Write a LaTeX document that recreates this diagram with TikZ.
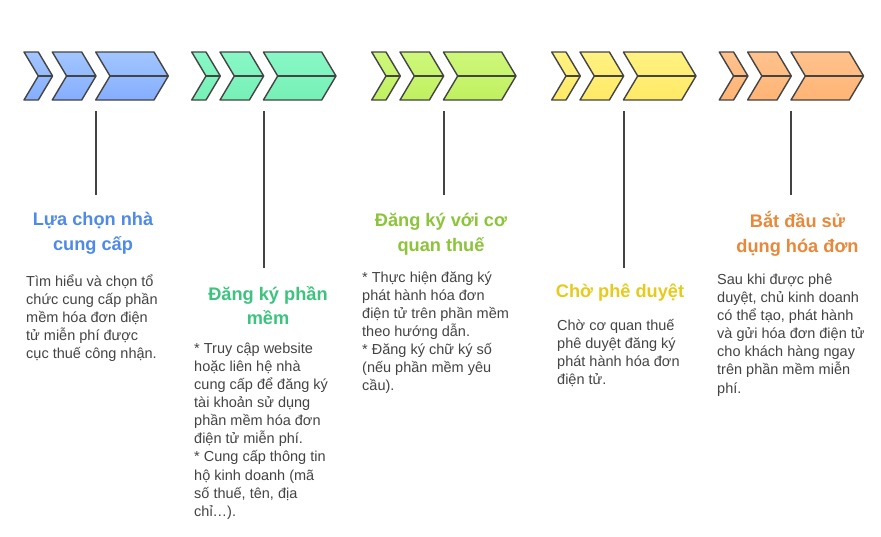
\documentclass[tikz,border=0pt]{standalone}
\usepackage{fontspec}
\setmainfont{Liberation Sans}
\usetikzlibrary{calc}
\definecolor{edge}{HTML}{444444}
\definecolor{bodytxt}{HTML}{444444}
\definecolor{aT}{HTML}{A2C6FF}\definecolor{aB}{HTML}{86AEFF}\definecolor{aH}{HTML}{4F8AE8}
\definecolor{bT}{HTML}{88F8C6}\definecolor{bB}{HTML}{76F0B6}\definecolor{bH}{HTML}{3CC47E}
\definecolor{cT}{HTML}{CEF87A}\definecolor{cB}{HTML}{C0F060}\definecolor{cH}{HTML}{8CC43A}
\definecolor{dT}{HTML}{FFF282}\definecolor{dB}{HTML}{FFEA66}\definecolor{dH}{HTML}{E6CB1C}
\definecolor{eT}{HTML}{FFC28E}\definecolor{eB}{HTML}{FFB474}\definecolor{eH}{HTML}{E8883A}
\tikzset{
  chevshape/.style={draw=edge,line width=1.4pt,line join=round},
  stem/.style={draw=edge,line width=1.8pt},
  titletxt/.style={font=\bfseries\fontsize{18.2}{24.5}\selectfont,align=center,inner sep=0pt},
  bodytext/.style={font=\fontsize{14.5}{18.1}\selectfont,align=left,inner sep=0pt,text=bodytxt,anchor=west},
}
\newcommand{\mychev}[4]{% x0, w, topcolor, bottomcolor
  \draw[chevshape,top color=#3,bottom color=#4]
    (#1,52) -- ({#1+#2},52) -- ({#1+#2+14.3},76) -- ({#1+#2},100) -- (#1,100) -- ({#1+14.3},76) -- cycle;
  \draw[chevshape] ({#1+14.3},76) -- ({#1+#2+14.3},76);
}
\newcommand{\mygroup}[3]{% offset, top, bottom
  \mychev{24+#1}{14.3}{#2}{#3}
  \mychev{52.3+#1}{29.4}{#2}{#3}
  \mychev{95.7+#1}{58.3}{#2}{#3}
}
\begin{document}
\begin{tikzpicture}[x=1pt,y=-1pt]
\useasboundingbox[fill=white] (0,0) rectangle (881,536);
\mygroup{0}{aT}{aB}
\mygroup{167.7}{bT}{bB}
\mygroup{347.7}{cT}{cB}
\mygroup{527.7}{dT}{dB}
\mygroup{695.3}{eT}{eB}

\coordinate (s1) at (96,111);   \coordinate (e1) at (96,195);
\coordinate (s2) at (263.7,111);\coordinate (e2) at (263.7,268);
\coordinate (s3) at (443.7,111);\coordinate (e3) at (443.7,195);
\coordinate (s4) at (623.7,111);\coordinate (e4) at (623.7,268);
\coordinate (s5) at (791.3,111);\coordinate (e5) at (791.3,195);
\foreach \i in {1,...,5} \draw[stem] (s\i) -- (e\i);

\node[titletxt,text=aH] (t1) at (93,233) {Lựa chọn nhà\\cung cấp};
\node[titletxt,text=bH] (t2) at (268,305.5) {Đăng ký phần\\mềm};
\node[titletxt,text=cH] (t3) at (441,234) {Đăng ký với cơ\\quan thuế};
\node[titletxt,text=dH] (t4) at (620,293) {Chờ phê duyệt};
\node[titletxt,text=eH] (t5) at (797.5,234) {Bắt đầu sử\\dụng hóa đơn};

\node[bodytext] (b1) at (26,318) {Tìm hiểu và chọn tổ\\chức cung cấp phần\\mềm hóa đơn điện\\tử miễn phí được\\cục thuế công nhận.};
\node[bodytext] (b2) at (194,431) {* Truy cập website\\hoặc liên hệ nhà\\cung cấp để đăng ký\\tài khoản sử dụng\\phần mềm hóa đơn\\điện tử miễn phí.\\* Cung cấp thông tin\\hộ kinh doanh (mã\\số thuế, tên, địa\\chỉ…).};
\node[bodytext] (b3) at (362,332.5) {* Thực hiện đăng ký\\phát hành hóa đơn\\điện tử trên phần mềm\\theo hướng dẫn.\\* Đăng ký chữ ký số\\(nếu phần mềm yêu\\cầu).};
\node[bodytext] (b4) at (557,353) {Chờ cơ quan thuế\\phê duyệt đăng ký\\phát hành hóa đơn\\điện tử.};
\node[bodytext] (b5) at (717,335) {Sau khi được phê\\duyệt, chủ kinh doanh\\có thể tạo, phát hành\\và gửi hóa đơn điện tử\\cho khách hàng ngay\\trên phần mềm miễn\\phí.};
\end{tikzpicture}
\end{document}
